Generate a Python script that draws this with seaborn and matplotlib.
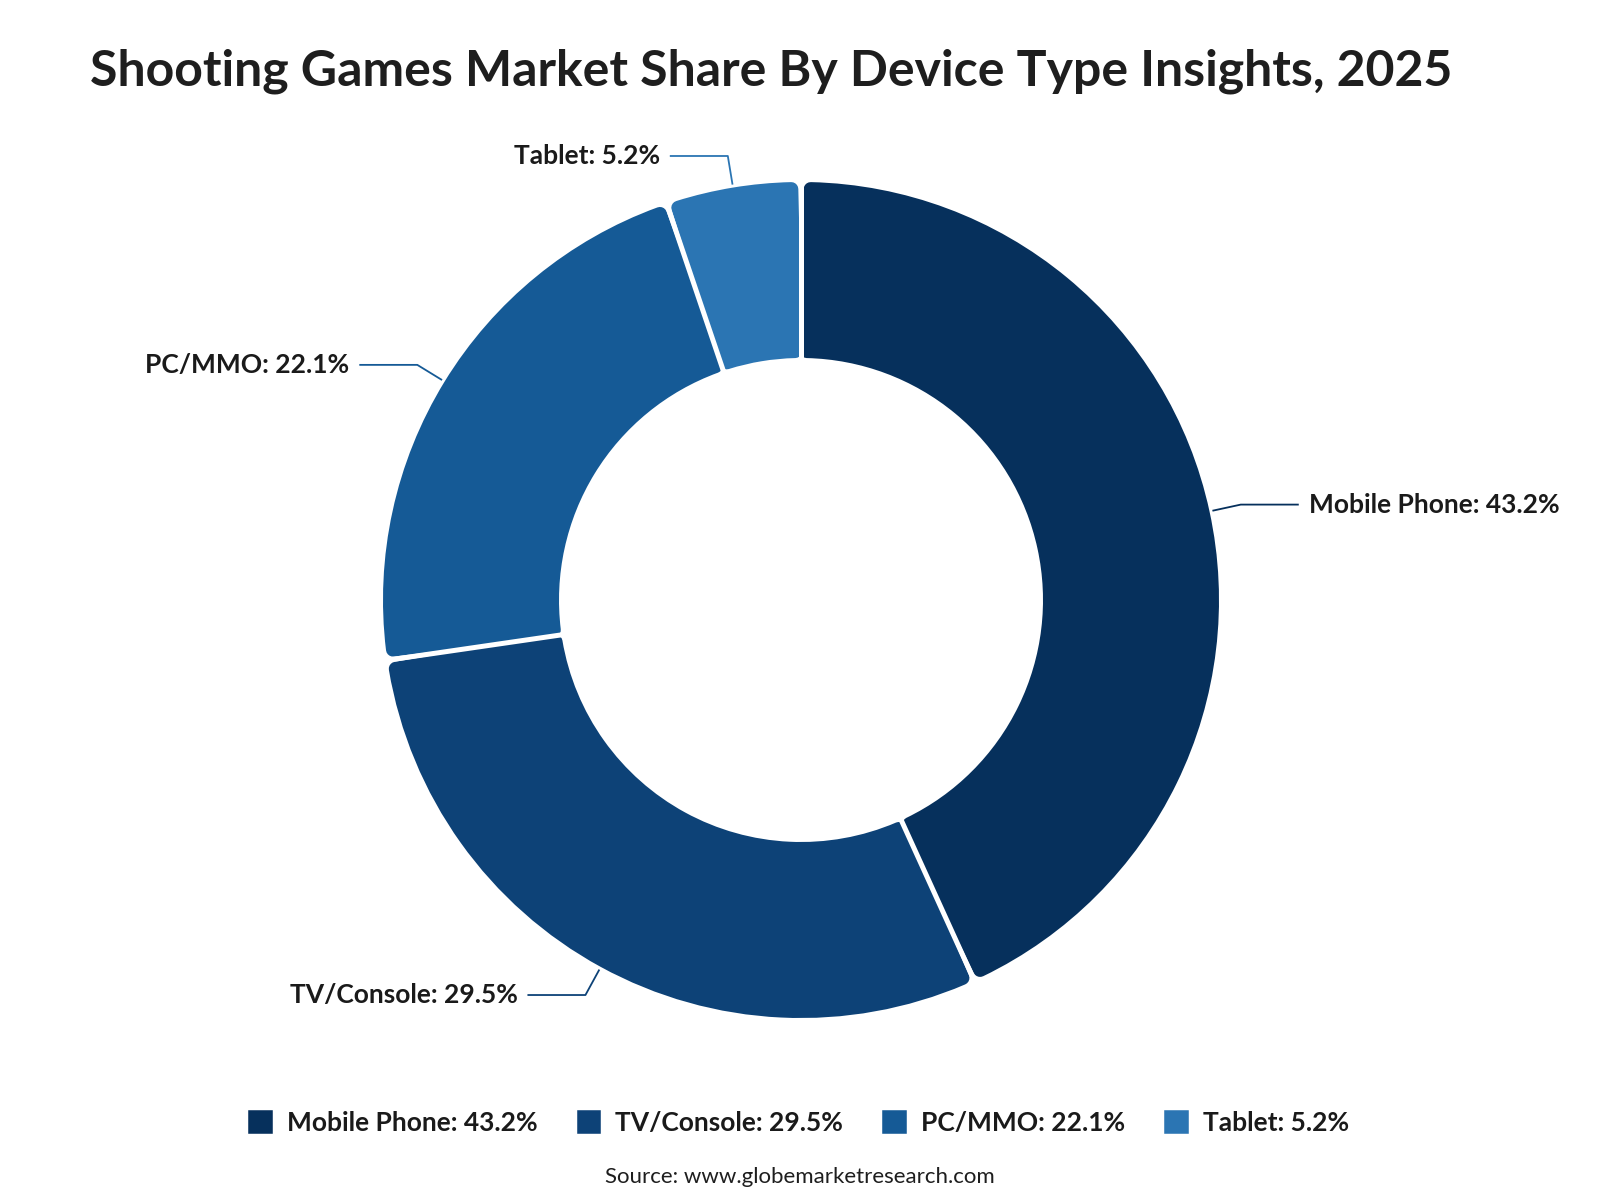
import numpy as np
import matplotlib
matplotlib.use("Agg")
import matplotlib.pyplot as plt
import matplotlib.patches as mpatches
import seaborn as sns

# data
devices = ["Mobile Phone", "TV/Console", "PC/MMO", "Tablet"]
shares = [43.2, 29.5, 22.1, 5.2]
colors = ["#06305c", "#0d4277", "#155a96", "#2b75b3"]

title = "Shooting Games Market Share By Device Type Insights, 2025"
source = "Source: www.globemarketresearch.com"

sns.set_theme(style="white")
plt.rcParams["font.family"] = ["Lato", "DejaVu Sans"]

W, H = 1600, 1200
fig = plt.figure(figsize=(16, 12), dpi=100)
ax = fig.add_axes([0, 0, 1, 1])

# donut geometry (pixel units)
cx, cy = 801, 600
R_out, R_in = 418, 242
d = 7            # corner rounding
trim_deg = 1.35  # angular trim per side

wedges, _ = ax.pie(shares, colors=colors, startangle=90, counterclock=False,
                   center=(cx, cy), radius=R_out - d,
                   wedgeprops=dict(width=(R_out - R_in) - 2 * d,
                                   linewidth=2 * d * 72 / 100, joinstyle="round"))
for w, c in zip(wedges, colors):
    w.set_edgecolor(c)
    w.set_theta1(w.theta1 + trim_deg)
    w.set_theta2(w.theta2 - trim_deg)

# white separators so the gap stays even
for w in wedges:
    a = np.deg2rad(w.theta1 - trim_deg)
    ax.plot([cx + (R_in - 3) * np.cos(a), cx + (R_out + 3) * np.cos(a)],
            [cy + (R_in - 3) * np.sin(a), cy + (R_out + 3) * np.sin(a)],
            color="white", lw=3.6, solid_capstyle="butt", zorder=5)

ax.set_xlim(0, W)
ax.set_ylim(0, H)
ax.set_aspect("equal")
ax.axis("off")

# leader lines and labels
labels = [f"{n}: {v}%" for n, v in zip(devices, shares)]
for w, lab, c in zip(wedges, labels, colors):
    ang = np.deg2rad((w.theta1 + w.theta2) / 2)
    ca, sa = np.cos(ang), np.sin(ang)
    x0, y0 = cx + (R_out + 3) * ca, cy + (R_out + 3) * sa
    x1, y1 = cx + (R_out + 32) * ca, cy + (R_out + 32) * sa
    side = 1 if ca >= 0 else -1
    x2 = x1 + side * 58
    ax.plot([x0, x1, x2], [y0, y1, y1], color=c, lw=1.3, solid_capstyle="butt")
    ax.text(x2 + side * 10, y1, lab, ha="left" if side > 0 else "right",
            va="center", fontsize=19, fontweight="bold", color="#1a1a1a")

fig.text(90 / W, 1 - 71 / H, title, ha="left", va="center",
         fontsize=36, fontweight="bold", color="#1e1e1e")

handles = [mpatches.Patch(facecolor=c, edgecolor=c, linewidth=4, joinstyle="round")
           for c in colors]
ax.legend(handles, labels, loc="center", bbox_to_anchor=(0.5, 1 - 1123 / H),
          ncol=4, frameon=False, prop=dict(size=19, weight="bold"),
          handlelength=0.7, handleheight=0.7, handletextpad=0.65,
          columnspacing=1.6, labelcolor="#1a1a1a")

fig.text(0.5, 1 - 1177 / H, source, ha="center", va="center",
         fontsize=16, color="#1e1e1e")

fig.savefig("out.png", dpi=100, facecolor="white")
